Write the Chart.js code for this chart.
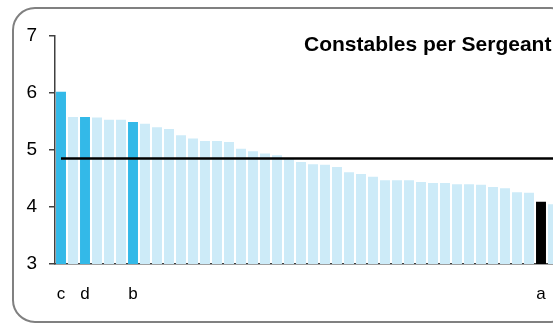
<!DOCTYPE html>
<html>
<head>
<meta charset="utf-8">
<script src="https://cdn.jsdelivr.net/npm/chart.js@4/dist/chart.umd.min.js"></script>
<style>
  html, body { margin: 0; padding: 0; background: #fff; overflow: hidden; }
  #wrap { width: 575px; height: 325px; }
</style>
</head>
<body>
<div id="wrap"><canvas id="rankChart" width="575" height="325"></canvas></div>
<script>
// forces sorted by constables per sergeant (only a few are named)
const categories = ['c', '', 'd', '', '', '', 'b', '', '', '',
    '', '', '', '', '', '', '', '', '', '',
    '', '', '', '', '', '', '', '', '', '',
    '', '', '', '', '', '', '', '', '', '',
    'a', ''];
const ratios = [6.02, 5.58, 5.58, 5.57, 5.53, 5.53, 5.49, 5.46, 5.40, 5.37,
    5.26, 5.20, 5.16, 5.16, 5.14, 5.02, 4.98, 4.94, 4.91, 4.86,
    4.79, 4.75, 4.74, 4.70, 4.61, 4.58, 4.53, 4.47, 4.47, 4.47,
    4.44, 4.42, 4.42, 4.40, 4.40, 4.39, 4.35, 4.33, 4.26, 4.25,
    4.09, 4.05];
const average = 4.85;
const yTicks = [3, 4, 5, 6, 7];
const chartTitle = 'Constables per Sergeant';

const highlighted = ['c', 'd', 'b'];
const barColors = categories.map(c => {
    if (c === 'a') return '#000000';
    if (highlighted.includes(c)) return '#33b9e8';
    return '#cdebf8';
});

// rounded frame + title
const framePlugin = {
    id: 'frame',
    beforeDraw(chart) {
        const ctx = chart.ctx;
        ctx.save();
        ctx.fillStyle = '#ffffff';
        ctx.fillRect(0, 0, chart.width, chart.height);
        ctx.strokeStyle = '#808080';
        ctx.lineWidth = 2;
        ctx.beginPath();
        ctx.roundRect(13, 8, 560, 314, 22);
        ctx.stroke();
        ctx.restore();
    },
    afterDraw(chart) {
        const ctx = chart.ctx;
        ctx.save();
        ctx.fillStyle = '#000';
        ctx.font = 'bold 21px "Liberation Sans", Arial, sans-serif';
        ctx.textAlign = 'left';
        ctx.textBaseline = 'alphabetic';
        ctx.fillText(chartTitle, 304, 51);
        ctx.restore();
    }
};

new Chart(document.getElementById('rankChart').getContext('2d'), {
    type: 'bar',
    data: {
        labels: categories,
        datasets: [{
            type: 'line',
            label: 'Average',
            data: categories.map(() => average),
            borderColor: '#000000',
            borderWidth: 2.5,
            pointRadius: 0,
            fill: false,
            order: 0
        }, {
            label: 'Constables per Sergeant',
            data: ratios,
            backgroundColor: barColors,
            borderWidth: 0,
            barPercentage: 0.83,
            categoryPercentage: 1,
            order: 1
        }]
    },
    options: {
        responsive: false,
        devicePixelRatio: 1,
        animation: false,
        layout: { padding: { left: 0, top: 36, right: 16, bottom: 0 } },
        plugins: { legend: { display: false }, tooltip: { enabled: false } },
        scales: {
            x: {
                grid: { display: false },
                border: { display: true, color: '#404040', width: 1.5 },
                ticks: {
                    autoSkip: false, maxRotation: 0, padding: 12,
                    color: '#000',
                    font: { family: '"Liberation Sans", Arial, sans-serif', size: 17 }
                },
                afterFit(scale) { scale.height = 61; }
            },
            y: {
                min: yTicks[0],
                max: yTicks[yTicks.length - 1],
                afterBuildTicks(scale) { scale.ticks = yTicks.map(v => ({ value: v })); },
                grid: { drawOnChartArea: false, drawTicks: true, tickLength: 6, color: '#404040', lineWidth: 1.5 },
                border: { display: true, color: '#404040', width: 1.5 },
                ticks: {
                    padding: 12,
                    color: '#000',
                    font: { family: '"Liberation Sans", Arial, sans-serif', size: 19 }
                },
                afterFit(scale) { scale.width = 55; }
            }
        }
    },
    plugins: [framePlugin]
});
</script>
</body>
</html>
